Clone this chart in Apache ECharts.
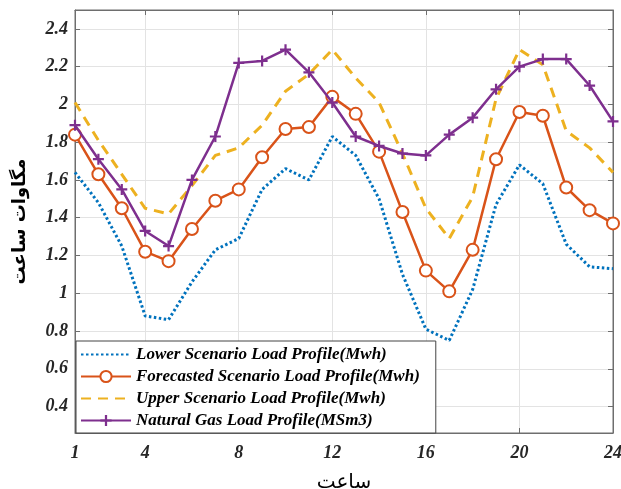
<!DOCTYPE html>
<html>
<head>
<meta charset="utf-8">
<script src="https://cdn.jsdelivr.net/npm/echarts@6/dist/echarts.min.js"></script>
<style>
html,body{margin:0;padding:0;background:#fff;}
#chart{width:621px;height:489px;}
</style>
</head>
<body>
<div id="chart"></div>
<script>
const hours = [1,2,3,4,5,6,7,8,9,10,11,12,13,14,15,16,17,18,19,20,21,22,23,24];
const lowerScenario = [1.64,1.48,1.25,0.88,0.86,1.06,1.23,1.29,1.55,1.66,1.60,1.83,1.73,1.50,1.10,0.81,0.75,1.02,1.47,1.68,1.58,1.26,1.14,1.13];
const forecastedScenario = [1.84,1.63,1.45,1.22,1.17,1.34,1.49,1.55,1.72,1.87,1.88,2.04,1.95,1.75,1.43,1.12,1.01,1.23,1.71,1.96,1.94,1.56,1.44,1.37];
const upperScenario = [2.01,1.81,1.63,1.45,1.42,1.57,1.73,1.77,1.89,2.07,2.16,2.29,2.14,2.01,1.74,1.45,1.29,1.51,2.03,2.29,2.21,1.86,1.77,1.64];
const naturalGas = [1.89,1.71,1.55,1.33,1.25,1.60,1.83,2.22,2.23,2.29,2.17,2.01,1.83,1.78,1.74,1.73,1.84,1.93,2.08,2.20,2.24,2.24,2.10,1.91];
const xTickLabels = [1,4,8,12,16,20,24];
const yTickLabels = [0.4,0.6,0.8,1,1.2,1.4,1.6,1.8,2,2.2,2.4];
const seriesNames = [
  'Lower Scenario Load Profile(Mwh)',
  'Forecasted Scenario Load Profile(Mwh)',
  'Upper Scenario Load Profile(Mwh)',
  'Natural Gas Load Profile(MSm3)'
];
const xName = 'ساعت';
const yName = 'مگاوات ساعت';

const pair = arr => hours.map((h, i) => [h, arr[i]]);
const axisColor = '#6e6e6e';
const labelFont = {fontFamily:'Liberation Serif', fontStyle:'italic', fontWeight:'bold', fontSize:18, color:'#262626'};
const gridLine = {show:true, lineStyle:{color:'#e3e3e3', width:1}};
const hiddenMark = {color:'rgba(0,0,0,0)', borderColor:'rgba(0,0,0,0)', borderWidth:0};

const chart = echarts.init(document.getElementById('chart'), null, {renderer:'canvas'});
chart.setOption({
  animation:false,
  backgroundColor:'#fff',
  grid:{left:75, right:8, top:10, bottom:56, containLabel:false, outerBoundsMode:'none',
        show:true, borderColor:axisColor, borderWidth:1, backgroundColor:'transparent'},
  legend:{
    orient:'vertical', left:76, top:341,
    padding:[5,16,4,4], itemWidth:50, itemHeight:14, itemGap:5,
    backgroundColor:'#fff', borderColor:'#444', borderWidth:1, borderRadius:0,
    textStyle:{fontFamily:'Liberation Serif', fontStyle:'italic', fontWeight:'bold', fontSize:17, color:'#000'},
    data:[
      {name:seriesNames[0], itemStyle:hiddenMark},
      {name:seriesNames[1]},
      {name:seriesNames[2], itemStyle:hiddenMark},
      {name:seriesNames[3]}
    ]
  },
  xAxis:[{
    type:'value', min:1, max:24, position:'bottom',
    name:xName, nameLocation:'middle', nameGap:40,
    nameTextStyle:{fontFamily:'DejaVu Sans', fontSize:20, color:'#000'},
    axisLine:{show:true, lineStyle:{color:axisColor}},
    axisTick:{show:true, inside:true, length:5, customValues:xTickLabels, lineStyle:{color:axisColor}},
    axisLabel:{customValues:xTickLabels, margin:11, ...labelFont},
    splitLine:gridLine
  },{
    type:'value', min:1, max:24, position:'top',
    axisLine:{show:true, lineStyle:{color:axisColor}},
    axisTick:{show:true, inside:true, length:5, customValues:xTickLabels, lineStyle:{color:axisColor}},
    axisLabel:{show:false},
    splitLine:{show:false}
  }],
  yAxis:[{
    type:'value', min:0.26, max:2.5, position:'left',
    name:yName, nameLocation:'middle', nameGap:46, nameRotate:90,
    nameTextStyle:{fontFamily:'DejaVu Sans', fontSize:18, fontWeight:'bold', color:'#000'},
    axisLine:{show:true, lineStyle:{color:axisColor}},
    axisTick:{show:true, inside:true, length:5, customValues:yTickLabels, lineStyle:{color:axisColor}},
    axisLabel:{customValues:yTickLabels, margin:7, ...labelFont},
    splitLine:gridLine
  },{
    type:'value', min:0.26, max:2.5, position:'right',
    axisLine:{show:true, lineStyle:{color:axisColor}},
    axisTick:{show:true, inside:true, length:5, customValues:yTickLabels, lineStyle:{color:axisColor}},
    axisLabel:{show:false},
    splitLine:{show:false}
  }],
  series:[
    {name:seriesNames[0], type:'line', data:pair(lowerScenario), symbol:'circle', showSymbol:false, color:'#0072BD',
     lineStyle:{width:3, type:[2.5,2.5], color:'#0072BD'}, z:2},
    {name:seriesNames[1], type:'line', data:pair(forecastedScenario), symbol:'emptyCircle', symbolSize:12, color:'#D95319',
     itemStyle:{color:'#D95319', borderColor:'#D95319', borderWidth:2.5},
     lineStyle:{width:2.5, color:'#D95319'}, z:3},
    {name:seriesNames[2], type:'line', data:pair(upperScenario), symbol:'circle', showSymbol:false, color:'#EDB120',
     lineStyle:{width:3, type:[10,7], color:'#EDB120'}, z:2},
    {name:seriesNames[3], type:'line', data:pair(naturalGas), symbol:'path://M4,0H6V4H10V6H6V10H4V6H0V4H4Z', symbolSize:11, color:'#7E2F8E',
     itemStyle:{color:'#7E2F8E'},
     lineStyle:{width:2.5, color:'#7E2F8E'}, z:4}
  ]
});
</script>
</body>
</html>
